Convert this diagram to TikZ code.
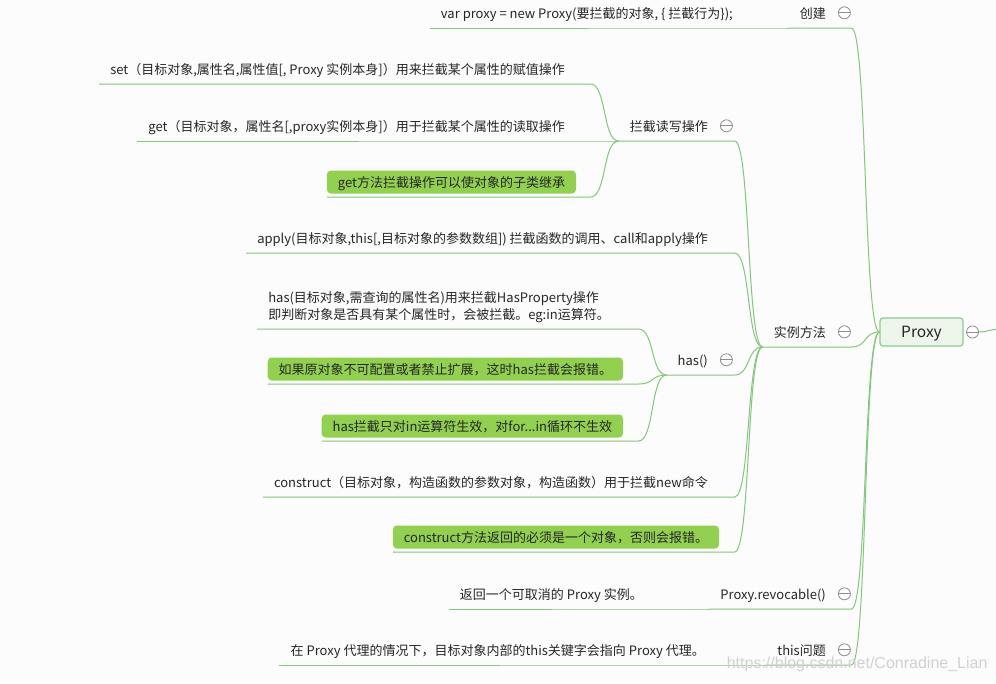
\documentclass[tikz,border=0pt]{standalone}
\usepackage{fontspec}
\setmainfont{Noto Sans CJK SC}
\newfontfamily\wmfont{Liberation Sans}
\usepackage[x11names, svgnames, rgb]{xcolor}
\usepackage{tikz}
\usetikzlibrary{calc, positioning, backgrounds}

\definecolor{linkgreen}{RGB}{130,200,122}
\definecolor{notegreen}{RGB}{146,208,80}
\definecolor{rootfill}{RGB}{238,246,236}
\definecolor{rootline}{RGB}{140,205,135}
\definecolor{pagebg}{RGB}{252,252,252}

% underline of a topic, then the bend up/down to the parent's junction
\newcommand\linkto[2]{%
  \draw[link] (#1.south west) -- (#1.south east)
    -- ($(#2 |- #1.south east)+(-28,0)$)
    .. controls +(16,0) and +(-16,0) .. (#2);}

\begin{document}
\begin{tikzpicture}[x=1pt,y=-1pt,
    topic/.style={font=\fontsize{13}{17}\selectfont, text=black!85, inner xsep=11pt,
        inner ysep=8.5pt, text height=12pt, text depth=1pt, anchor=south east},
    note/.style={topic, fill=notegreen, rounded corners=4pt, inner ysep=5pt,
        outer ysep=3.5pt, outer xsep=0pt},
    fold/.style={circle, draw=black!45, fill=white, line width=.8pt, minimum size=12pt,
        inner sep=0pt, path picture={\draw[black!45, line width=.8pt]
        (path picture bounding box.west) -- (path picture bounding box.east);}},
    link/.style={draw=linkgreen, line width=1pt}]
  \fill[pagebg] (0,0) rectangle (996,683);
  \useasboundingbox (0,0) rectangle (996,683);

  % root
  \node[draw=rootline, fill=rootfill, line width=1.2pt, rounded corners=3pt,
        minimum width=83pt, minimum height=28pt, text=black!85, text height=11pt,
        text depth=0pt, font=\fontsize{15.5}{18}\selectfont] (root) at (921.5,332) {Proxy};
  \node[fold, right=2.5pt of root] (rootf) {};
  \coordinate (offright) at (1000,329);
  \draw[link] (rootf.east) .. controls +(8,0) and +(-8,0) .. (offright);

  % first level
  \node[topic] (mk) at (837,28) {创建};
  \node[fold, right=1pt of mk] (mkf) {};
  \node[topic] (inst) at (837,347) {实例方法};
  \node[fold, right=1pt of inst] (instf) {};
  \node[topic] (revo) at (837,609) {Proxy.revocable()};
  \node[fold, right=1pt of revo] (revof) {};
  \node[topic] (thisq) at (837,665) {this问题};
  \node[fold, right=1pt of thisq] (thisqf) {};

  \node[topic] (proxynew) at (744,28) {var proxy = new Proxy(要拦截的对象, \{ 拦截行为\});};

  % instance methods
  \node[topic] (rw) at (719,141) {拦截读写操作};
  \node[fold, right=1pt of rw] (rwf) {};
  \node[topic] (setop) at (576,84) {set（目标对象,属性名,属性值[, Proxy 实例本身]）用来拦截某个属性的赋值操作};
  \node[topic] (getop) at (576,141) {get（目标对象，属性名[,proxy实例本身]）用于拦截某个属性的读取操作};
  \node[note] (getnote) at (576,197) {get方法拦截操作可以使对象的子类继承};

  \node[topic] (applyop) at (719,253) {apply(目标对象,this[,目标对象的参数数组]) 拦截函数的调用、call和apply操作};

  \node[topic] (hasop) at (719,375) {has()};
  \node[fold, right=1pt of hasop] (hasopf) {};
  \node[topic, text height=29pt] (hastext) at (621,329) {\begin{tabular}[b]{@{}l@{}}has(目标对象,需查询的属性名)用来拦截HasProperty操作\\即判断对象是否具有某个属性时，会被拦截。eg:in运算符。\end{tabular}};
  \node[note] (hasnote1) at (623,384) {如果原对象不可配置或者禁止扩展，这时has拦截会报错。};
  \node[note] (hasnote2) at (623,441) {has拦截只对in运算符生效，对for...in循环不生效};

  \node[topic] (constructop) at (719,497) {construct（目标对象，构造函数的参数对象，构造函数）用于拦截new命令};
  \node[note] (constructnote) at (719,552) {construct方法返回的必须是一个对象，否则会报错。};

  \node[topic] (revonote) at (654,609) {返回一个可取消的 Proxy 实例。};
  \node[topic] (thisnote) at (716,665) {在 Proxy 代理的情况下，目标对象内部的this关键字会指向 Proxy 代理。};

  % connectors
  \foreach \c in {mk,inst,revo,thisq} \linkto{\c}{root.west};
  \linkto{proxynew}{mk.south west}
  \foreach \c in {rw,applyop,hasop,constructop,constructnote} \linkto{\c}{inst.south west};
  \foreach \c in {setop,getop,getnote} \linkto{\c}{rw.south west};
  \foreach \c in {hastext,hasnote1,hasnote2} \linkto{\c}{hasop.south west};
  \linkto{revonote}{revo.south west}
  \linkto{thisnote}{thisq.south west}

  \node[font=\wmfont\fontsize{16}{18}\selectfont, text=black!18, anchor=east] (wm)
    at (991,664) {https://blog.csdn.net/Conradine\_Lian};
\end{tikzpicture}
\end{document}
